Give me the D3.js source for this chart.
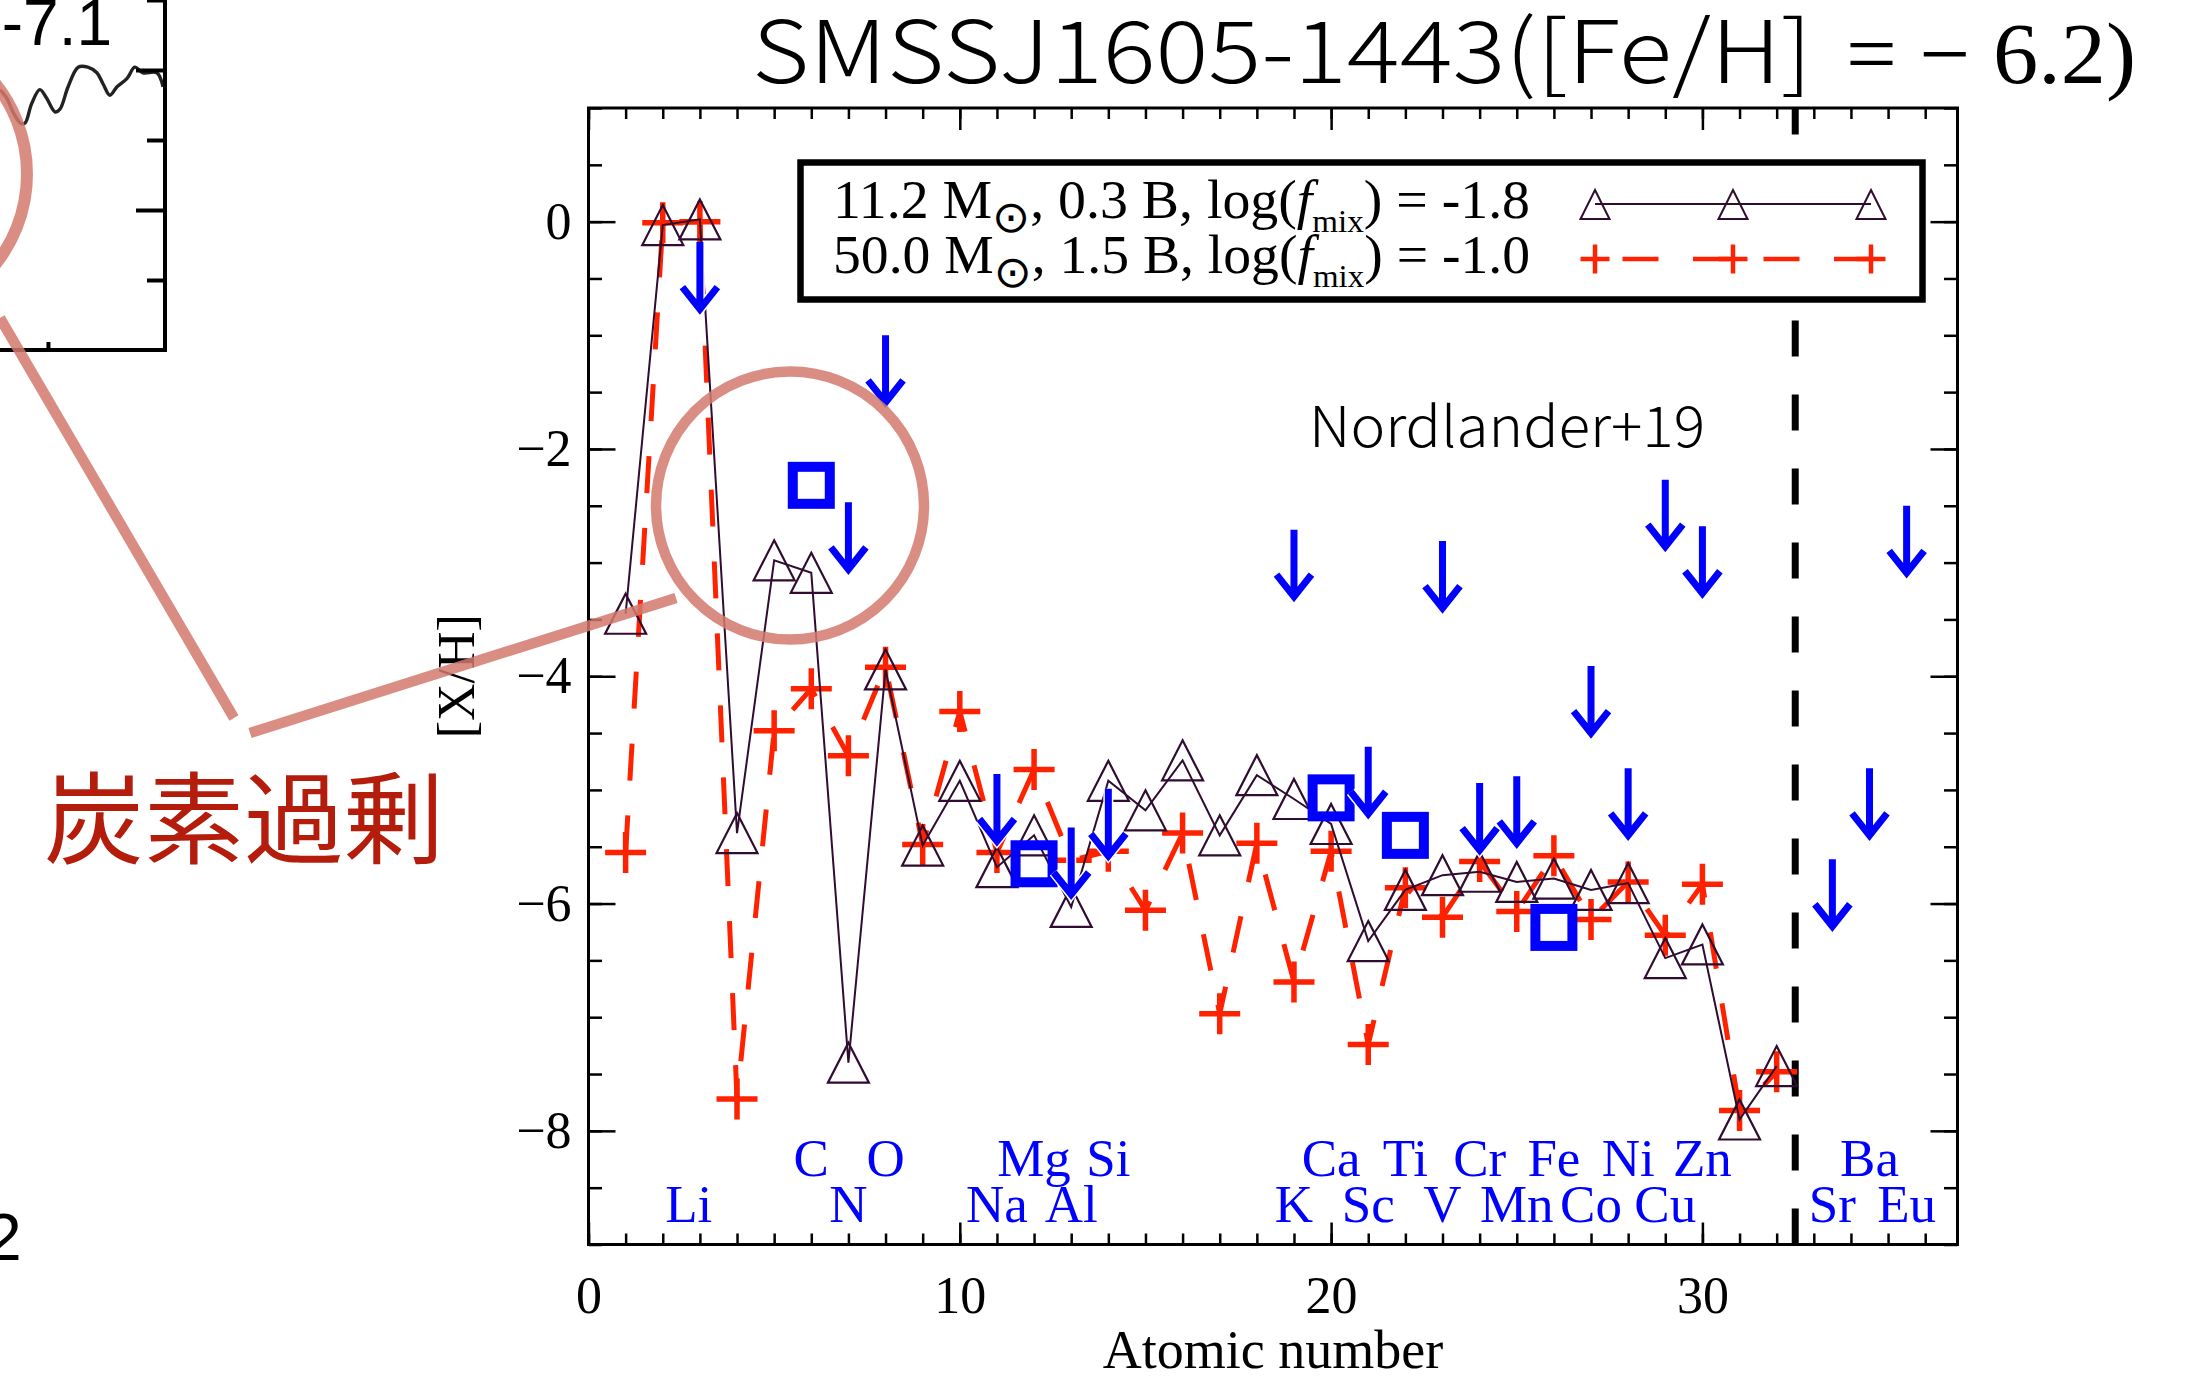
<!DOCTYPE html>
<html>
<head>
<meta charset="UTF-8">
<title>SMSSJ1605-1443 abundance pattern</title>
<script src="https://d3js.org/d3.v7.min.js"></script>
<style>
  body { margin: 0; background: #fff; overflow: hidden; }
  svg { display: block; }
</style>
</head>
<body>
<svg id="chart" width="2199" height="1380"></svg>
<script>
// ---- data ----
// atomic numbers of the model yields
const zModel = [1, 2, 3, 4, 5, 6, 7, 8, 9, 10, 11, 12, 13, 14, 15, 16,
                17, 18, 19, 20, 21, 22, 23, 24, 25, 26, 27, 28, 29, 30, 31, 32];
// 11.2 Msun, 0.3 B, log(fmix) = -1.8  (triangles, solid)
const model112 = [-3.45, -0.03, 0.02, -5.38, -2.98, -3.09, -7.40, -3.94, -5.49, -4.92, -5.68, -5.40,
                  -6.03, -4.92, -5.18, -4.74, -5.40, -4.87, -5.08, -5.30, -6.33, -5.88, -5.75, -5.72,
                  -5.81, -5.78, -5.88, -5.82, -6.48, -6.36, -7.90, -7.43];
// 50.0 Msun, 1.5 B, log(fmix) = -1.0  (plus, dashed)
const model500 = [-5.55, -0.01, 0.00, -7.72, -4.48, -4.11, -4.70, -3.92, -5.48, -4.31, -5.55, -4.82,
                  -5.62, -5.54, -6.06, -5.38, -6.97, -5.47, -6.69, -5.54, -7.24, -5.86, -6.12, -5.63,
                  -6.07, -5.58, -6.14, -5.81, -6.28, -5.83, -7.82, -7.48];

// Nordlander+19 detections (squares)
const detElem = ["C", "Mg", "Ca", "Ti", "Fe"];
const detZ    = [6, 12, 20, 22, 26];
const detVal  = [-2.32, -5.65, -5.07, -5.40, -6.21];

// Nordlander+19 upper limits (arrows)
const limElem = ["Li", "N", "O", "Na", "Al", "Si", "K", "Sc", "V", "Cr", "Mn", "Co", "Ni", "Cu", "Zn", "Sr", "Ba", "Eu"];
const limZ    = [3, 7, 8, 11, 13, 14, 19, 21, 23, 24, 25, 27, 28, 29, 30, 33.5, 34.5, 35.5];
const limVal  = [-0.18, -2.47, -1.00, -4.86, -5.33, -4.99, -2.71, -4.62, -2.81, -4.94, -4.88, -3.91,
                 -4.81, -2.27, -2.68, -5.61, -4.81, -2.50];

// element labels along the bottom, two rows
const labTop  = ["C", "O", "Mg", "Si", "Ca", "Ti", "Cr", "Fe", "Ni", "Zn", "Ba"];
const labTopZ = [6, 8, 12, 14, 20, 22, 24, 26, 28, 30, 34.5];
const labBot  = ["Li", "N", "Na", "Al", "K", "Sc", "V", "Mn", "Co", "Cu", "Sr", "Eu"];
const labBotZ = [2.7, 7, 11, 13, 19, 21, 23, 25, 27, 29, 33.5, 35.5];

const xMajor = [0, 10, 20, 30];
const yMajor = [-8, -6, -4, -2, 0];

// piece of the neighbouring spectrum panel (top left corner)
const insetWave = [0, 0.14, 0.27, 0.43, 0.52, 0.66, 0.83, 0.97, 1.15, 1.25, 1.42, 1.63, 1.83, 2.02,
                   2.15, 2.29, 2.44, 2.65, 2.81, 2.98, 3.27, 3.40];
const insetFlux = [0.93, 0.90, 0.85, 0.81, 0.81, 0.88, 0.93, 0.90, 0.85, 0.86, 0.94, 1.01, 1.01, 0.99,
                   0.95, 0.91, 0.94, 0.97, 1.01, 0.99, 0.99, 0.94];

// ---- drawing ----
const SERIF = '"Liberation Serif", "Times New Roman", serif';
const SANS = '"Noto Sans CJK JP", "Noto Sans", sans-serif';
const RED = "#ff2200", PLUM = "#300c30", BLUE = "#0000ff", SALMON = "#d37a6d";

const svg = d3.select("#chart");
const x = d3.scaleLinear().domain([0, 36.87]).range([588.5, 1957.5]);
const y = d3.scaleLinear().domain([-9, 1]).range([1244.5, 108]);
const [x0, x1] = x.domain(), [y0, y1] = y.domain();

// axes (ticks point inward, IDL style)
function addAxis(axis, tx, ty) {
  const g = svg.append("g").attr("transform", `translate(${tx},${ty})`).call(axis);
  g.select(".domain").remove();
  g.selectAll("line").attr("stroke", "#000").attr("stroke-width", 2.5);
  g.selectAll("text").style("font-family", SERIF).style("font-size", "52px").attr("fill", "#000");
  return g;
}
const fmt = d3.format("d");
addAxis(d3.axisBottom(x).tickValues(d3.range(0, 37)).tickSize(-11).tickFormat(""), 0, y(y0));
addAxis(d3.axisBottom(x).tickValues(xMajor).tickSize(-22).tickPadding(31.6).tickFormat(fmt), 0, y(y0));
addAxis(d3.axisTop(x).tickValues(d3.range(0, 37)).tickSize(-11).tickFormat(""), 0, y(y1));
addAxis(d3.axisTop(x).tickValues(xMajor).tickSize(-22).tickFormat(""), 0, y(y1));
addAxis(d3.axisLeft(y).tickValues(d3.range(-9, 1.01, 0.5)).tickSize(-13.5).tickFormat(""), x(x0), 0);
addAxis(d3.axisLeft(y).tickValues(yMajor).tickSize(-27).tickPadding(17).tickFormat(fmt), x(x0), 0);
addAxis(d3.axisRight(y).tickValues(d3.range(-9, 1.01, 0.5)).tickSize(-13.5).tickFormat(""), x(x1), 0);
addAxis(d3.axisRight(y).tickValues(yMajor).tickSize(-27).tickFormat(""), x(x1), 0);

svg.append("rect")
  .attr("x", x(x0)).attr("y", y(y1))
  .attr("width", x(x1) - x(x0)).attr("height", y(y0) - y(y1))
  .attr("fill", "none").attr("stroke", "#000").attr("stroke-width", 3);

// axis titles
svg.append("text").attr("x", (x(x0) + x(x1)) / 2).attr("y", 1368)
  .attr("text-anchor", "middle").style("font-family", SERIF).style("font-size", "54px")
  .text("Atomic number");
svg.append("text")
  .attr("transform", `translate(474,${(y(y0) + y(y1)) / 2}) rotate(-90)`)
  .attr("text-anchor", "middle").style("font-family", SERIF).style("font-size", "52px")
  .text("[X/H]");

// separator between iron-peak and neutron-capture elements
svg.append("path")
  .attr("d", `M${x(32.5)},${y(y0)}V${y(y1)}`)
  .attr("stroke", "#000").attr("stroke-width", 7).attr("stroke-dasharray", "36 38");

// models
const pts112 = zModel.map((z, i) => [z, model112[i]]);
const pts500 = zModel.map((z, i) => [z, model500[i]]);
const line = d3.line().x(d => x(d[0])).y(d => y(d[1]));

svg.append("path").attr("d", line(pts500))
  .attr("fill", "none").attr("stroke", RED).attr("stroke-width", 5)
  .attr("stroke-dasharray", "37 35");
svg.append("g").selectAll("path").data(pts500).join("path")
  .attr("transform", d => `translate(${x(d[0])},${y(d[1])})`)
  .attr("d", "M-20.5,0H20.5M0,-20.5V20.5")
  .attr("stroke", RED).attr("stroke-width", 5.5);

svg.append("path").attr("d", line(pts112))
  .attr("fill", "none").attr("stroke", PLUM).attr("stroke-width", 2);
svg.append("g").selectAll("path").data(pts112).join("path")
  .attr("transform", d => `translate(${x(d[0])},${y(d[1])})`)
  .attr("d", "M0,-20L20.5,20L-20.5,20Z")
  .attr("fill", "none").attr("stroke", PLUM).attr("stroke-width", 2.2);

// observations
svg.append("g").selectAll("rect").data(detZ).join("rect")
  .attr("x", (z) => x(z) - 18.5).attr("y", (z, i) => y(detVal[i]) - 18.5)
  .attr("width", 37).attr("height", 37)
  .attr("fill", "none").attr("stroke", BLUE).attr("stroke-width", 10);

const arrowLen = 0.59; // dex
function arrowPath(z, v) {
  const px = x(z), top = y(v), tip = y(v - arrowLen);
  return `M${px},${top}V${tip - 3}M${px - 17.5},${tip - 22}L${px},${tip}L${px + 17.5},${tip - 22}`;
}
const arrows = svg.append("g");
arrows.selectAll("path.halo").data(limZ).join("path").attr("class", "halo")
  .attr("d", (z, i) => arrowPath(z, limVal[i]))
  .attr("fill", "none").attr("stroke", "#fff").attr("stroke-width", 10);
arrows.selectAll("path.arrow").data(limZ).join("path").attr("class", "arrow")
  .attr("d", (z, i) => arrowPath(z, limVal[i]))
  .attr("fill", "none").attr("stroke", BLUE).attr("stroke-width", 7);

// element names
const labels = svg.append("g").style("font-family", SERIF).style("font-size", "53px")
  .attr("fill", BLUE).attr("text-anchor", "middle");
labels.selectAll("text.top").data(labTop).join("text").attr("class", "top")
  .attr("x", (d, i) => x(labTopZ[i])).attr("y", y(-8.40)).text(d => d);
labels.selectAll("text.bot").data(labBot).join("text").attr("class", "bot")
  .attr("x", (d, i) => x(labBotZ[i])).attr("y", y(-8.80)).text(d => d);

svg.append("text").attr("x", 1309).attr("y", 447)
  .attr("textLength", 396).attr("lengthAdjust", "spacingAndGlyphs")
  .style("font-family", SANS).style("font-weight", 300).style("font-size", "56px").text("Nordlander+19");

// legend
svg.append("rect").attr("x", 800.5).attr("y", 162.5).attr("width", 1122).attr("height", 137)
  .attr("fill", "#fff").attr("stroke", "#000").attr("stroke-width", 6.5);

function legendText(yb, mass, boost, fmix) {
  const t = svg.append("text").attr("x", 833).attr("y", yb)
    .attr("textLength", 697).attr("lengthAdjust", "spacingAndGlyphs")
    .style("font-family", SERIF).style("font-size", "54px");
  t.append("tspan").text(`${mass} M`);
  t.append("tspan").attr("dy", 14).style("font-family", '"DejaVu Sans", sans-serif')
    .style("font-size", "44px").text("\u2299");
  t.append("tspan").attr("dy", -14).text(`,  ${boost} B, log(`);
  t.append("tspan").style("font-style", "italic").text("f");
  t.append("tspan").attr("dy", 14).style("font-size", "32px").text("mix");
  t.append("tspan").attr("dy", -14).text(`) = ${fmix}`);
}
legendText(218, "11.2", "0.3", "-1.8");
legendText(273, "50.0", "1.5", "-1.0");

const legX = [1595, 1733, 1871];
svg.append("path").attr("d", `M${legX[0]},204H${legX[2]}`)
  .attr("stroke", PLUM).attr("stroke-width", 2);
svg.append("g").selectAll("path").data(legX).join("path")
  .attr("transform", d => `translate(${d},204.5)`)
  .attr("d", "M0,-14.5L14.5,14.5L-14.5,14.5Z")
  .attr("fill", "none").attr("stroke", PLUM).attr("stroke-width", 2);
svg.append("path").attr("d", `M${legX[0]},259H${legX[2]}`)
  .attr("stroke", RED).attr("stroke-width", 4.5)
  .attr("stroke-dasharray", "36 34.5").attr("stroke-dashoffset", 43);
svg.append("g").selectAll("path").data(legX).join("path")
  .attr("transform", d => `translate(${d},259)`)
  .attr("d", "M-14.5,0H14.5M0,-14.5V14.5")
  .attr("stroke", RED).attr("stroke-width", 4.5);

// title
svg.append("text").attr("x", 752).attr("y", 83)
  .attr("textLength", 1060).attr("lengthAdjust", "spacingAndGlyphs")
  .style("font-family", SANS).style("font-weight", 300).style("font-size", "86px").text("SMSSJ1605-1443([Fe/H]");
svg.append("text").attr("x", 1846).attr("y", 83)
  .attr("textLength", 290).attr("lengthAdjust", "spacingAndGlyphs")
  .style("font-family", SERIF).style("font-size", "86px").text("= \u2212 6.2)");

// ---- neighbouring panel fragment ----
const ix = d3.scaleLinear().domain([0, 3.44]).range([0, 165]);
const iy = d3.scaleLinear().domain([0, 1.25]).range([350, 0]);
const inset = svg.append("g");
inset.append("path")
  .attr("d", d3.line().x((d, i) => ix(insetWave[i])).y(d => iy(d)).curve(d3.curveCatmullRom)(insetFlux))
  .attr("fill", "none").attr("stroke", "#222").attr("stroke-width", 3.4);
inset.append("path").attr("d", `M0,${iy(0)}H${ix(3.44)}V0`)
  .attr("fill", "none").attr("stroke", "#000").attr("stroke-width", 4);
const ir = inset.append("g").attr("transform", `translate(${ix(3.44)},0)`);
ir.call(d3.axisRight(iy).tickValues([0.25, 0.75, 1.25]).tickSize(-18).tickFormat(""));
ir.call(g => g.select(".domain").remove());
const ir2 = inset.append("g").attr("transform", `translate(${ix(3.44)},0)`);
ir2.call(d3.axisRight(iy).tickValues([0.5, 1.0]).tickSize(-29).tickFormat(""));
ir2.call(g => g.select(".domain").remove());
const ib = inset.append("g").attr("transform", `translate(0,${iy(0)})`);
ib.call(d3.axisBottom(ix).tickValues([1]).tickSize(-8).tickFormat(""));
ib.call(g => g.select(".domain").remove());
inset.selectAll("line").attr("stroke", "#000").attr("stroke-width", 4);
inset.append("text").attr("x", 112).attr("y", 45).attr("text-anchor", "end")
  .style("font-family", '"Liberation Sans", Arial, sans-serif').style("font-size", "64px")
  .text("\u2264-7.1");
svg.append("text").attr("x", -15).attr("y", 1260)
  .style("font-family", '"Liberation Sans", Arial, sans-serif').style("font-size", "66px").text("2");

// ---- carbon-excess annotation ----
const note = svg.append("g").attr("fill", "none").attr("stroke", SALMON)
  .attr("stroke-width", 10.5).attr("opacity", 0.85);
note.append("circle").attr("cx", 790).attr("cy", 505.5).attr("r", 134);
note.append("circle").attr("cx", -118).attr("cy", 174).attr("r", 145).attr("stroke-width", 12);
note.append("path").attr("d", "M0,318L234,718");
note.append("path").attr("d", "M250,733L676,598");

svg.append("text").attr("x", 44).attr("y", 856)
  .attr("textLength", 400).attr("lengthAdjust", "spacingAndGlyphs")
  .style("font-family", SANS).style("font-size", "100px").attr("fill", "#b41c0c")
  .text("炭素過剰");
</script>
</body>
</html>
